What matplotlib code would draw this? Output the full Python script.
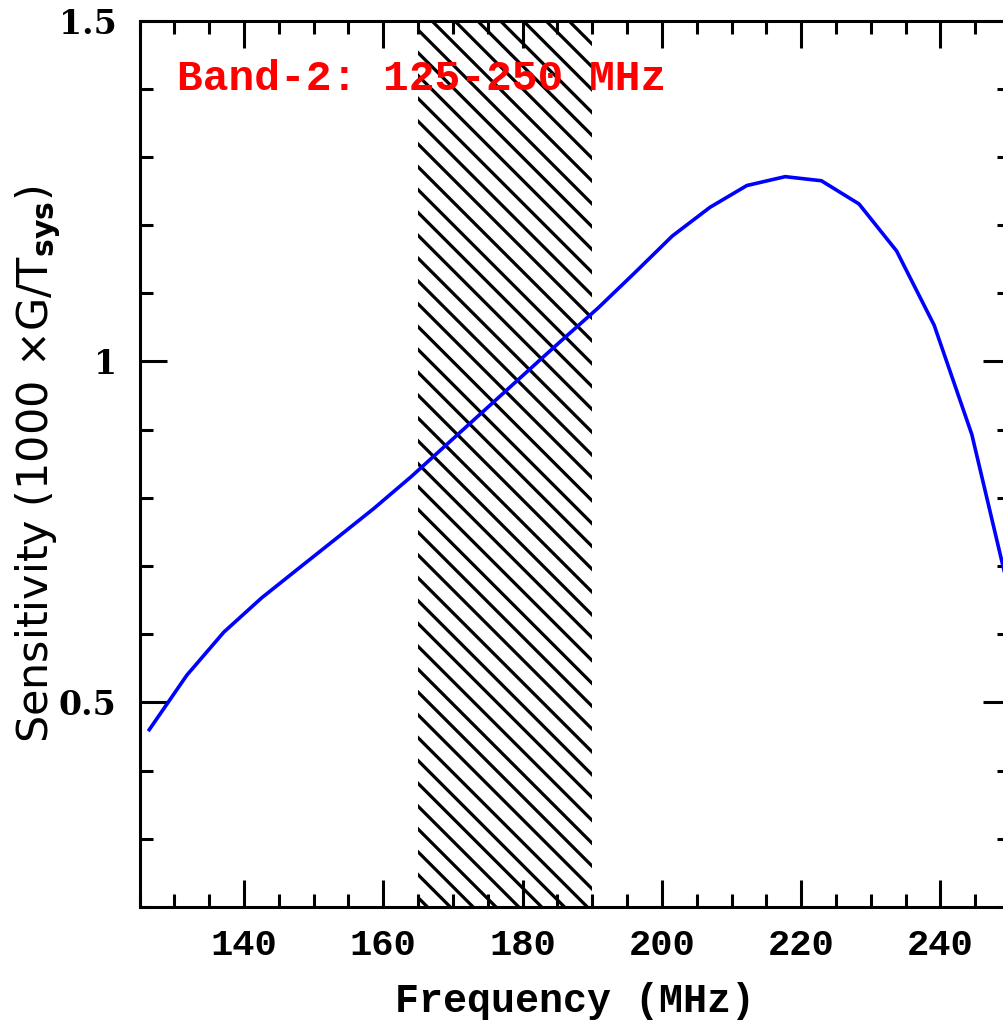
import matplotlib
matplotlib.use("Agg")
import matplotlib.pyplot as plt
from matplotlib.ticker import MultipleLocator, FuncFormatter

# sensitivity curve (MHz, 1000 x G/Tsys)
freq = [126.4, 131.8, 137.1, 142.5, 147.9, 153.2, 158.6, 164.0,
        169.3, 174.7, 180.1, 185.4, 190.8, 196.2, 201.5, 206.9,
        212.2, 217.7, 222.9, 228.3, 233.7, 239.1, 244.5, 249.9]
sens = [0.460, 0.540, 0.603, 0.653, 0.697, 0.740, 0.784, 0.831,
        0.880, 0.930, 0.980, 1.029, 1.078, 1.131, 1.184, 1.226,
        1.258, 1.271, 1.265, 1.231, 1.162, 1.053, 0.893, 0.660]

# hatched (RFI) band
band_lo = 165
band_hi = 190

band_text = "Band-2: 125-250 MHz"

DPI = 137
plt.rcParams['hatch.linewidth'] = 1.7

fig = plt.figure(figsize=(1003 / DPI, 1020 / DPI), dpi=DPI)
ax = fig.add_axes([0.1391, 0.1108, 0.868, 0.8691])

ax.axvspan(band_lo, band_hi, facecolor='none', edgecolor='black',
           hatch='\\\\', linewidth=0, zorder=1)
ax.plot(freq, sens, color='#0000ff', lw=1.9, zorder=3)

ax.set_xlim(125, 250)
ax.set_ylim(0.2, 1.5)

ax.xaxis.set_major_locator(MultipleLocator(20))
ax.xaxis.set_minor_locator(MultipleLocator(5))
ax.yaxis.set_major_locator(MultipleLocator(0.5))
ax.yaxis.set_minor_locator(MultipleLocator(0.1))
ax.yaxis.set_major_formatter(FuncFormatter(lambda v, p: "%g" % v))

for sp in ax.spines.values():
    sp.set_linewidth(1.6)

ax.tick_params(which='both', direction='in', top=True, right=True, width=1.6)
ax.tick_params(which='major', length=14)
ax.tick_params(which='minor', length=7)
ax.tick_params(axis='x', which='major', pad=11)
ax.tick_params(axis='y', which='major', pad=12)

for lab in ax.get_xticklabels():
    lab.set_fontfamily('Liberation Mono')
    lab.set_fontweight('bold')
    lab.set_fontsize(19.5)
for lab in ax.get_yticklabels():
    lab.set_fontfamily('DejaVu Serif')
    lab.set_fontweight('bold')
    lab.set_fontsize(17.5)

ax.set_xlabel("Frequency (MHz)", family='Liberation Mono', fontweight='bold',
              fontsize=21, labelpad=10)
ax.set_ylabel(r"Sensitivity (1000 $\times$G/T$_{\mathbf{sys}}$)",
              family='DejaVu Sans', fontsize=22.5)
ax.yaxis.set_label_coords(-0.088, 0.5)

ax.text(0.043, 0.9216, band_text, transform=ax.transAxes, color='red',
        family='Liberation Mono', fontweight='bold', fontsize=22.5,
        ha='left', va='baseline', zorder=4)

fig.savefig("out.png", dpi=DPI)
